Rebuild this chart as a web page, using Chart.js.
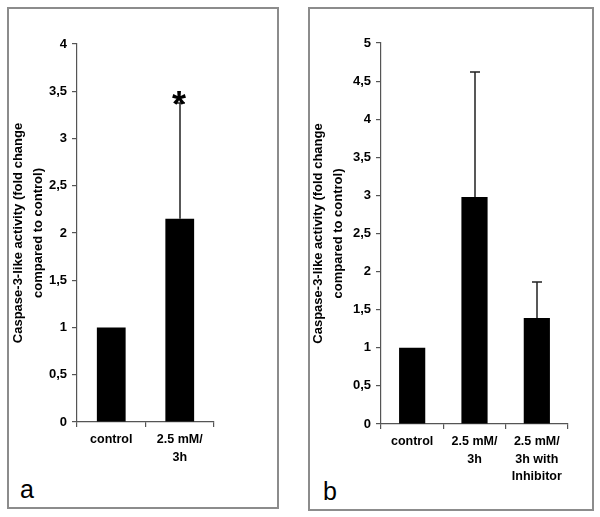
<!DOCTYPE html>
<html>
<head>
<meta charset="utf-8">
<script src="https://cdn.jsdelivr.net/npm/chart.js@4"></script>
<style>
  body { margin: 0; background: #fff; width: 600px; height: 517px; position: relative; overflow: hidden; }
  .panel { position: absolute; border: 2px solid #8c8c8c; box-sizing: border-box; }
  .tag { position: absolute; font: 25px "Liberation Sans", Arial, sans-serif; line-height: 25px; color: #000; }
  canvas { position: absolute; top: 0; }
</style>
</head>
<body>
<div class="panel" style="left:7px;top:7px;width:272px;height:502px"></div>
<div class="panel" style="left:308px;top:7px;width:286px;height:504px"></div>
<div class="tag" style="left:20px;top:477px">a</div>
<div class="tag" style="left:323px;top:479px">b</div>
<canvas id="chartA" width="290" height="517" style="left:0"></canvas>
<canvas id="chartB" width="300" height="517" style="left:300px"></canvas>
<script>
// panel a
const categoriesA = ["control", ["2.5 mM/", "3h"]];
const valuesA = [1, 2.15];
const errTopA = [null, 3.38];
const yTicksA = ["0", "0,5", "1", "1,5", "2", "2,5", "3", "3,5", "4"];

// panel b
const categoriesB = ["control", ["2.5 mM/", "3h"], ["2.5 mM/", "3h with", "Inhibitor"]];
const valuesB = [1, 2.98, 1.39];
const errTopB = [null, 4.62, 1.86];
const yTicksB = ["0", "0,5", "1", "1,5", "2", "2,5", "3", "3,5", "4", "4,5", "5"];

const yTitle = ["Caspase-3-like activity (fold change", "compared to control)"];
const fontFamily = '"Liberation Sans", Arial, sans-serif';
const axisColor = "#555";

// draws upper error bars (and optional star) through the y scale
const errorBars = {
  id: "errorBars",
  afterDatasetsDraw(chart, args, opts) {
    const ctx = chart.ctx;
    const meta = chart.getDatasetMeta(0);
    const y = chart.scales.y;
    ctx.save();
    ctx.strokeStyle = "#222";
    ctx.lineWidth = 1.5;
    opts.tops.forEach((top, i) => {
      if (top == null) return;
      const bar = meta.data[i];
      const x = Math.round(bar.x);
      const yTop = Math.round(y.getPixelForValue(top));
      ctx.beginPath();
      ctx.moveTo(x, bar.y);
      ctx.lineTo(x, yTop);
      ctx.moveTo(x - 5, yTop);
      ctx.lineTo(x + 5, yTop);
      ctx.stroke();
      if (opts.star === i) {
        ctx.fillStyle = "#000";
        ctx.font = "bold 36px " + fontFamily;
        ctx.textAlign = "center";
        ctx.textBaseline = "alphabetic";
        ctx.fillText("*", x - 1, yTop + 14);
      }
    });
    ctx.restore();
  }
};

function makeChart(id, labels, values, tops, ticks, yMax, box, star) {
  return new Chart(document.getElementById(id), {
    type: "bar",
    plugins: [errorBars],
    data: {
      labels: labels,
      datasets: [{
        data: values,
        backgroundColor: "#000",
        borderWidth: 0,
        categoryPercentage: 1,
        barPercentage: 0.42
      }]
    },
    options: {
      responsive: false,
      animation: false,
      layout: { padding: box.padding },
      plugins: {
        legend: { display: false },
        tooltip: { enabled: false },
        errorBars: { tops: tops, star: star }
      },
      scales: {
        x: {
          afterFit: (s) => { s.height = box.xHeight; },
          grid: { drawOnChartArea: false, offset: true, tickLength: 5, color: axisColor, lineWidth: 1.2 },
          border: { display: true, color: axisColor, width: 1.2 },
          ticks: {
            color: "#000",
            padding: 4,
            maxRotation: 0,
            autoSkip: false,
            font: { family: fontFamily, size: 12.5, weight: "bold", lineHeight: 1.4 }
          }
        },
        y: {
          min: 0,
          max: yMax,
          afterFit: (s) => { s.width = box.yWidth; },
          grid: { drawOnChartArea: false, tickLength: 5, color: axisColor, lineWidth: 1.2 },
          border: { display: true, color: axisColor, width: 1.2 },
          ticks: {
            stepSize: 0.5,
            color: "#000",
            padding: 5,
            callback: (v, i) => ticks[i],
            font: { family: fontFamily, size: 13, weight: "bold" }
          },
          title: {
            display: true,
            text: yTitle,
            color: "#000",
            padding: { top: box.titlePad, bottom: 0 },
            font: { family: fontFamily, size: 13, weight: "bold", lineHeight: 20 / 13 }
          }
        }
      }
    }
  });
}

makeChart("chartA", categoriesA, valuesA, errTopA, yTicksA, 4,
  { padding: { left: 7, right: 76, top: 44, bottom: 35 }, yWidth: 70, xHeight: 60, titlePad: 1 }, 1);

makeChart("chartB", categoriesB, valuesB, errTopB, yTicksB, 5,
  { padding: { left: 8, right: 32, top: 43, bottom: 33 }, yWidth: 73, xHeight: 60, titlePad: 0 }, null);
</script>
</body>
</html>
